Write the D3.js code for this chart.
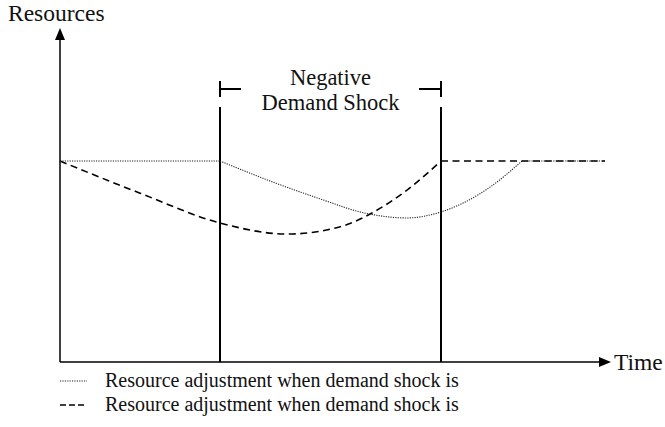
<!DOCTYPE html>
<html>
<head>
<meta charset="utf-8">
<script src="https://cdn.jsdelivr.net/npm/d3@7"></script>
<style>
  html, body { margin: 0; padding: 0; background: #fff; }
  svg { display: block; }
</style>
</head>
<body>
<svg id="chart" width="665" height="427"></svg>
<script>
// ---- data (time units 0..110, resource units 0..100) ----
const shockStart = 32;
const shockEnd = 76.2;
const baseLevel = 60;

// dotted series
const dottedFlatBefore = [[0, 60], [32, 60]];
const dottedCurve = [[32, 60], [42.6, 53.7], [52.6, 48.4], [60, 44.8], [69.4, 43.0], [76.2, 44.8], [86, 52.2], [92.4, 60]];
const dottedFlatAfter = [[92.4, 60], [109, 60]];

// dashed series
const dashedCurve = [[0, 60], [16, 50.4], [32, 41.5], [45.4, 38.2], [56.6, 40.6], [62.4, 44.5], [69.4, 51.3], [76.2, 60]];
const dashedFlatAfter = [[76.2, 60], [109, 60]];

const axisLabels = { y: "Resources", x: "Time" };
const shockLabel = ["Negative", "Demand Shock"];
const legendLabels = ["Resource adjustment when demand shock is", "Resource adjustment when demand shock is"];

// ---- drawing ----
const svg = d3.select("#chart");
const x = d3.scaleLinear().domain([0, 110]).range([60, 610]);
const y = d3.scaleLinear().domain([0, 100]).range([362, 27]);

const x0 = x(0), y0 = y(0);

function label(tx, ty, str, size, anchor) {
  return svg.append("text").attr("x", tx).attr("y", ty)
    .style("font-family", '"Liberation Serif"').style("font-size", size + "px")
    .attr("text-anchor", anchor || "start").attr("fill", "#111").text(str);
}

// axes
svg.append("line").attr("x1", x0).attr("y1", y0).attr("x2", x0).attr("y2", y(100) + 10)
  .attr("stroke", "#000").attr("stroke-width", 1.5);
svg.append("line").attr("x1", x0).attr("y1", y0).attr("x2", x(110) - 10).attr("y2", y0)
  .attr("stroke", "#000").attr("stroke-width", 1.5);
const ty = y(100) + 1;
svg.append("path").attr("d", `M${x0},${ty} L${x0 - 5},${ty + 12} L${x0 + 5},${ty + 12} Z`).attr("fill", "#000");
const tx = x(110) + 1;
svg.append("path").attr("d", `M${tx},${y0} L${tx - 12},${y0 - 5} L${tx - 12},${y0 + 5} Z`).attr("fill", "#000");

label(8, 21, axisLabels.y, 23.5);
label(614, 370, axisLabels.x, 23.5);

// shock vertical lines
[shockStart, shockEnd].forEach(t => {
  svg.append("line").attr("x1", x(t)).attr("x2", x(t)).attr("y1", 107).attr("y2", y0)
    .attr("stroke", "#000").attr("stroke-width", 2);
});
const bY = 89;
svg.append("path")
  .attr("d", `M${x(shockStart)},81 V97 M${x(shockStart)},${bY} H${x(shockStart) + 21} M${x(shockEnd)},81 V97 M${x(shockEnd)},${bY} H${x(shockEnd) - 22}`)
  .attr("stroke", "#000").attr("stroke-width", 2).attr("fill", "none");
const midX = (x(shockStart) + x(shockEnd)) / 2;
label(midX, 85, shockLabel[0], 22.5, "middle");
label(midX, 110, shockLabel[1], 22.5, "middle");

const lineLin = d3.line().x(d => x(d[0])).y(d => y(d[1]));
const lineCurve = d3.line().x(d => x(d[0])).y(d => y(d[1])).curve(d3.curveMonotoneX);

const dashStyle = sel => sel.attr("fill", "none").attr("stroke", "#000").attr("stroke-width", 1.6).attr("stroke-dasharray", "7,4.5");
svg.append("path").datum(dashedCurve).attr("d", lineCurve).call(dashStyle);
svg.append("path").datum(dashedFlatAfter).attr("d", lineLin).call(dashStyle);

const dotStyle = sel => sel.attr("fill", "none").attr("stroke", "#222").attr("stroke-width", 1.1).attr("stroke-dasharray", "1.2,1.2");
svg.append("path").datum(dottedFlatBefore).attr("d", lineLin).call(dotStyle);
svg.append("path").datum(dottedCurve).attr("d", lineCurve).call(dotStyle);
svg.append("path").datum(dottedFlatAfter).attr("d", lineLin).call(dotStyle);

// legend
svg.append("line").attr("x1", 60).attr("x2", 87).attr("y1", 381).attr("y2", 381).call(dotStyle);
svg.append("line").attr("x1", 60).attr("x2", 84).attr("y1", 405).attr("y2", 405)
  .attr("stroke", "#000").attr("stroke-width", 1.4).attr("stroke-dasharray", "6,3");
legendLabels.forEach((t, i) => {
  label(105, 387 + i * 24, t, 20);
});
</script>
</body>
</html>
